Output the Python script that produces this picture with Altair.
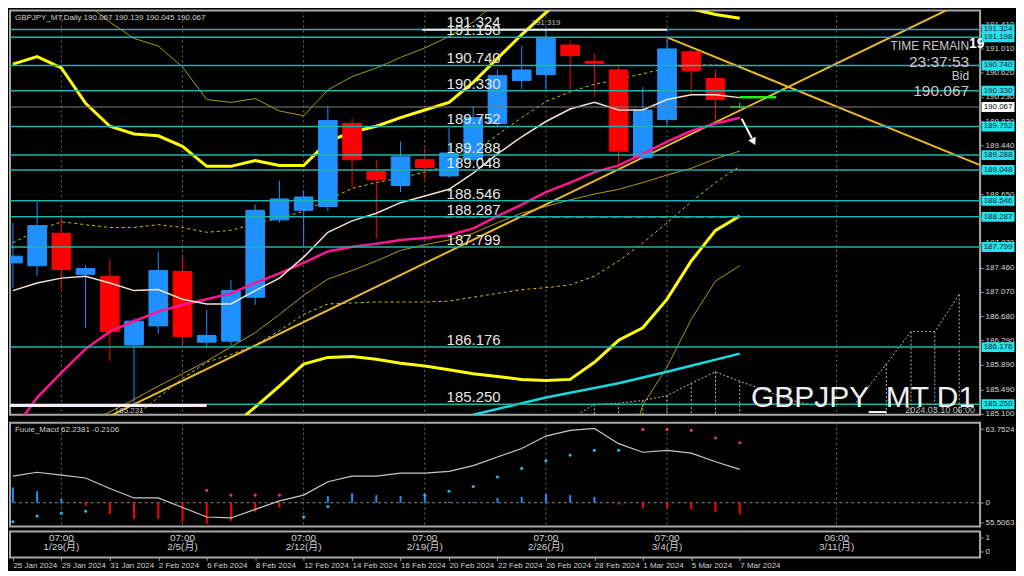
import altair as alt
import pandas as pd

FONT = "Liberation Sans, Arial, 'Noto Sans CJK JP', sans-serif"

# ---------------- data ----------------
days = ["25 Jan", "26 Jan", "29 Jan", "30 Jan", "31 Jan", "1 Feb", "2 Feb", "5 Feb", "6 Feb", "7 Feb",
        "8 Feb", "9 Feb", "12 Feb", "13 Feb", "14 Feb", "15 Feb", "16 Feb", "19 Feb", "20 Feb", "21 Feb",
        "22 Feb", "23 Feb", "26 Feb", "27 Feb", "28 Feb", "29 Feb", "1 Mar", "4 Mar", "5 Mar", "6 Mar", "7 Mar"]
opens = [187.541, 187.495, 188.021, 187.356, 187.325, 186.210, 186.520, 187.402, 186.256, 186.272,
         186.984, 188.238, 188.393, 188.455, 189.801, 189.027, 188.795, 189.213, 188.950, 189.213,
         189.801, 190.498, 190.591, 191.071, 190.808, 190.668, 189.244, 189.863, 190.962, 190.529, 190.067]
highs = [188.191, 188.532, 188.269, 187.510, 187.603, 186.643, 187.727, 187.619, 186.783, 187.263,
         188.486, 188.873, 188.718, 190.080, 189.879, 189.213, 189.507, 189.399, 189.724, 190.080,
         190.668, 191.055, 191.319, 191.148, 190.931, 190.715, 190.390, 191.195, 191.009, 190.668, 190.139]
lows = [187.139, 187.325, 187.092, 186.489, 185.947, 185.231, 186.396, 186.179, 186.164, 186.164,
        186.860, 188.191, 187.804, 188.377, 188.764, 187.944, 188.687, 188.888, 188.919, 189.182,
        189.739, 190.359, 190.343, 190.343, 190.235, 189.105, 189.213, 189.770, 190.281, 189.848, 190.045]
closes = [187.650, 188.145, 187.433, 187.448, 186.427, 186.597, 187.417, 186.349, 186.365, 187.092,
          188.393, 188.578, 188.609, 189.848, 189.213, 188.888, 189.260, 189.089, 189.321, 189.894,
          190.575, 190.668, 191.179, 190.900, 190.777, 189.352, 190.018, 191.009, 190.653, 190.188, 190.067]
idx = list(range(len(days)))

ma_white = [187.092, 187.216, 187.294, 187.325, 187.216, 187.092, 187.108, 186.953, 186.876, 186.876,
            187.092, 187.294, 187.634, 188.037, 188.222, 188.346, 188.517, 188.625, 188.733, 188.996,
            189.306, 189.585, 189.832, 190.034, 190.142, 190.018, 190.018, 190.188, 190.266, 190.266, 190.219]
ma_pink = [184.817, 185.359, 185.761, 186.148, 186.427, 186.597, 186.752, 186.860, 186.953, 187.046,
           187.216, 187.371, 187.541, 187.727, 187.804, 187.851, 187.913, 187.944, 187.990, 188.099,
           188.300, 188.486, 188.687, 188.842, 189.012, 189.120, 189.306, 189.507, 189.678, 189.801, 189.894]
bb_up2 = [190.761, 190.885, 190.699, 190.126, 189.755, 189.631, 189.600, 189.430, 189.105, 189.105,
          189.198, 189.120, 189.120, 189.507, 189.662, 189.755, 189.894, 190.018, 190.142, 190.467,
          190.854, 191.241, 191.597, 191.938, 192.170, 192.247, 192.092, 191.907, 191.659, 191.566, 191.504]
bb_up3 = [192.170, 192.278, 192.092, 191.752, 191.442, 191.179, 191.055, 190.715, 190.188, 190.142,
          190.204, 190.003, 189.925, 190.343, 190.560, 190.699, 190.870, 191.024, 191.210, 191.442,
          191.783, 192.092, 192.402, 192.634, 192.789, 192.866, 192.789, 192.634, 192.479, 192.325, 192.247]
bb_lo2 = [184.352, 184.229, 184.120, 184.043, 184.012, 184.043, 184.167, 184.352, 184.585, 184.879,
          185.204, 185.544, 185.900, 186.009, 186.024, 185.978, 185.916, 185.869, 185.808, 185.746,
          185.699, 185.653, 185.637, 185.653, 185.931, 186.287, 186.489, 186.953, 187.572, 188.068, 188.300]
bb_up1 = [187.866, 188.068, 188.207, 188.160, 188.114, 188.114, 188.160, 188.114, 188.037, 188.068,
          188.176, 188.269, 188.377, 188.563, 188.749, 188.842, 188.919, 189.012, 189.120, 189.337,
          189.616, 189.894, 190.157, 190.312, 190.436, 190.513, 190.606, 190.699, 190.746, 190.746, 190.746]
bb_lo1 = [184.662, 184.585, 184.538, 184.585, 184.739, 185.049, 185.359, 185.668, 185.931, 186.055,
          186.210, 186.442, 186.705, 186.876, 186.891, 186.907, 186.907, 186.907, 186.922, 186.984,
          187.046, 187.108, 187.139, 187.185, 187.325, 187.572, 187.866, 188.191, 188.532, 188.842, 189.105]
ma_long = [184.352, 184.538, 184.739, 184.941, 185.126, 185.328, 185.544, 185.746, 185.947, 186.179,
           186.411, 186.705, 187.015, 187.278, 187.417, 187.572, 187.743, 187.835, 187.913, 188.021,
           188.191, 188.346, 188.455, 188.563, 188.656, 188.733, 188.842, 188.965, 189.074, 189.229, 189.352]
bb_lo3_i = [22, 23, 24, 25, 26, 27, 28, 29, 30]
bb_lo3 = [182.959, 183.037, 183.270, 184.043, 185.235, 185.854, 186.628, 187.247, 187.495]

ma200_i = [19.0, 22, 25, 27, 30]
ma200 = [185.080, 185.359, 185.591, 185.777, 186.071]

trend_up_i = [4.1, 39.9]
trend_up_p = [185.079, 191.895]
trend_dn_i = [27.0, 39.9]
trend_dn_p = [191.195, 189.130]

projA_i = [23.3, 24, 25, 26, 27, 28, 29, 30, 31, 32, 33]
projA_p = [185.080, 185.250, 185.266, 185.312, 185.390, 185.591, 185.777, 185.622, 185.482, 185.328, 185.235]
projB_i = [34.8, 36.05, 37.07, 38.05, 39.06]
projB_p = [185.281, 185.900, 186.427, 186.427, 187.030]

levels = [191.324, 191.198, 190.740, 190.330, 189.752, 189.288, 189.048, 188.546, 188.287, 187.799, 186.176, 185.250]
bid = 190.067
price_ticks = [185.100, 185.490, 185.890, 186.290, 186.680, 187.070, 187.460, 187.870, 188.260,
               188.650, 189.050, 189.440, 189.830, 190.230, 190.620, 191.010, 191.410]

seg_i0 = [16.9, -0.2]
seg_i1 = [27.0, 8.0]
seg_p = [191.319, 185.231]

sep_i = [2, 7, 12, 17, 22, 27, 34]
sep_time = ["07:00", "07:00", "07:00", "07:00", "07:00", "07:00", "06:00"]
sep_date = ["1/29(月)", "2/5(月)", "2/12(月)", "2/19(月)", "2/26(月)", "3/4(月)", "3/11(月)"]

macd_hist = [16, 12, 4, -3, -12, -17, -17, -20, -22, -19, -10, -5, 0, 7, 10, 8, 7, 8, 1, 1,
             5, 6, 9, 8, 6, -2, -6, -6, -7, -10, -12]
macd_sig = [28, 32, 29, 26, 15, 5, 5, -5, -15, -16, -7, 2, 8, 22, 28, 28, 31, 31, 33, 39,
            48, 57, 70, 76, 78, 62, 53, 55, 52, 43, 35]
dot_i = [0, 1, 2, 3, 8, 9, 10, 11, 12, 13, 17, 18, 19, 20, 21, 22, 23, 24, 25, 26, 27, 28, 29, 30]
dot_v = [-20, -14, -11, -9, 13, 8, 8, 8, -15, -4, 8, 12, 17, 27, 36, 44, 50, 55, 55, 77, 77, 76, 68, 63]
dot_k = ["up"] * 4 + ["dn"] * 4 + ["up"] * 2 + ["up"] * 9 + ["dn"] * 5

# ---------------- layout ----------------
W, H1, H2, H3 = 972, 405, 104, 26
BLUE, RED = "#1E90FF", "#FF0000"

xs = alt.Scale(domain=[-0.12, 39.92], nice=False, zero=False)
ys = alt.Scale(domain=[185.08, 191.63], nice=False, zero=False)
ms = alt.Scale(domain=[-25, 84], nice=False, zero=False)
ts = alt.Scale(domain=[-0.375, 1.375], nice=False, zero=False)

yax = alt.Axis(orient="right", values=price_ticks, format=".3f", labelFontSize=8, labelColor="#D8D8D8",
               labelFont=FONT, tickColor="#A0A0A0", tickSize=3, labelPadding=2, domain=False,
               grid=False, title=None, zindex=0)


def X(f):
    return alt.X(f, scale=xs, axis=None, title=None)


def Y(f):
    return alt.Y(f, scale=ys, axis=yax, title=None)


def line(i_list, p_list, color, width, dash=None):
    d = pd.DataFrame({"i": i_list, "p": p_list})
    kw = dict(color=color, strokeWidth=width, clip=True)
    if dash:
        kw["strokeDash"] = dash
    return alt.Chart(d).mark_line(**kw).encode(x=X("i:Q"), y=Y("p:Q"))


def txt(s, x, y, size, color="#C8C8C8", align="left", weight="normal", baseline="middle"):
    return alt.Chart(pd.DataFrame({"t": [s]})).mark_text(
        align=align, baseline=baseline, fontSize=size, color=color, font=FONT, fontWeight=weight
    ).encode(text="t:N", x=alt.value(x), y=alt.value(y))


sepdf = pd.DataFrame({"i": sep_i, "tm": sep_time, "dt": sep_date})
sep_main = alt.Chart(sepdf).mark_rule(color="#6E6E6E", strokeDash=[2, 3], strokeWidth=1).encode(x=X("i:Q"))

# projection (dotted) lines and drops
pa = pd.DataFrame({"i": projA_i, "p": projA_p})
pb = pd.DataFrame({"i": projB_i, "p": projB_p})
projA = alt.Chart(pa).mark_line(color="#B8B8B8", strokeDash=[2, 2], strokeWidth=1, clip=True).encode(x=X("i:Q"), y=Y("p:Q"))
projB = alt.Chart(pb).mark_line(color="#B8B8B8", strokeDash=[2, 2], strokeWidth=1, clip=True).encode(x=X("i:Q"), y=Y("p:Q"))
dropsA = alt.Chart(pa).transform_filter("datum.i >= 24 && datum.i <= 30").mark_rule(
    color="#B8B8B8", strokeDash=[2, 2], strokeWidth=1).encode(x=X("i:Q"), y=Y("p:Q"), y2=alt.value(H1))
dropsB = alt.Chart(pb).transform_filter("datum.i > 35").mark_rule(
    color="#B8B8B8", strokeDash=[2, 2], strokeWidth=1).encode(x=X("i:Q"), y=Y("p:Q"), y2=alt.value(H1))

ind_lines = [
    line(idx, ma_long, "#B09A10", 1),
    line(idx, bb_up3, "#A0A000", 1),
    line(bb_lo3_i, bb_lo3, "#A0A000", 1),
    line(idx, bb_up1, "#C8C800", 1, [3, 3]),
    line(idx, bb_lo1, "#C8C800", 1, [3, 3]),
    line(idx, bb_up2, "#FFFF00", 3),
    line(idx, bb_lo2, "#FFFF00", 3),
    line(ma200_i, ma200, "#18D8E0", 2.5),
    line(trend_up_i, trend_up_p, "#E8B828", 2),
    line(trend_dn_i, trend_dn_p, "#E8B828", 2),
]

# candles
cdf = pd.DataFrame({"i": idx, "o": opens, "h": highs, "l": lows, "c": closes})
cbase = alt.Chart(cdf).transform_calculate(
    dir="datum.c > datum.o ? 'up' : (datum.c < datum.o ? 'down' : 'flat')",
    i0="datum.i - 0.385", i1="datum.i + 0.385")
cscale = alt.Scale(domain=["up", "down", "flat"], range=[BLUE, RED, "#22EE22"])
wicks = cbase.mark_rule(strokeWidth=1, clip=True).encode(
    x=X("i:Q"), y=Y("l:Q"), y2="h:Q", color=alt.Color("dir:N", scale=cscale, legend=None))
bodies = cbase.mark_rect(strokeWidth=1, clip=True).encode(
    x=X("i0:Q"), x2="i1:Q", y=Y("o:Q"), y2="c:Q",
    color=alt.Color("dir:N", scale=cscale, legend=None),
    stroke=alt.Stroke("dir:N", scale=cscale, legend=None))

ma_lines = [line(idx, ma_pink, "#FF1493", 2.5), line(idx, ma_white, "#F2E2D2", 1.5)]

levdf = pd.DataFrame({"p": levels, "t": [f"{v:.3f}" for v in levels]})
lev_rules = alt.Chart(levdf).mark_rule(color="#20B2AA", strokeWidth=1.5).encode(y=Y("p:Q"))
bid_rule = alt.Chart(pd.DataFrame({"p": [bid]})).mark_rule(color="#7F7F7F", strokeWidth=1).encode(y=Y("p:Q"))
segdf = pd.DataFrame({"i0": seg_i0, "i1": seg_i1, "p": seg_p, "w": ["a", "b"]})
seg_rules = alt.Chart(segdf).mark_rule(clip=True).encode(
    x=X("i0:Q"), x2="i1:Q", y=Y("p:Q"),
    strokeWidth=alt.StrokeWidth("w:N", scale=alt.Scale(domain=["a", "b"], range=[2, 3]), legend=None),
    color=alt.value("#F0F0F0"))
green_dash = alt.Chart(pd.DataFrame({"i0": [17.8], "i1": [30.0], "p": [188.287]})).mark_rule(
    color="#7FD47F", strokeDash=[8, 4], strokeWidth=1.5).encode(x=X("i0:Q"), x2="i1:Q", y=Y("p:Q"))
green_short = alt.Chart(pd.DataFrame({"i0": [30.0], "i1": [31.5], "p": [190.224]})).mark_rule(
    color="#22EE22", strokeWidth=2.5).encode(x=X("i0:Q"), x2="i1:Q", y=Y("p:Q"))

arrow_shaft = line([30.08, 30.5], [189.879, 189.56], "#FFFFFF", 2)
arrow_head = alt.Chart(pd.DataFrame({"i": [30.55], "p": [189.52]})).mark_point(
    shape="triangle", angle=153, size=70, filled=True, color="#FFFFFF", opacity=1).encode(x=X("i:Q"), y=Y("p:Q"))

lev_text = alt.Chart(levdf).mark_text(align="left", baseline="alphabetic", dy=-2, fontSize=15,
                                      color="#E6E6E6", font=FONT).encode(
    x=alt.XDatum(17.9, scale=xs, axis=None, type="quantitative"), y=Y("p:Q"), text="t:N")
hi_text = alt.Chart(pd.DataFrame({"i": [22], "p": [191.319], "t": ["191.319"]})).mark_text(
    fontSize=8, color="#C0C0C0", font=FONT, dy=-7).encode(x=X("i:Q"), y=Y("p:Q"), text="t:N")
lo_text = alt.Chart(pd.DataFrame({"i": [4.8], "p": [185.231], "t": ["185.231"]})).mark_text(
    fontSize=8, color="#C0C0C0", font=FONT, dy=6).encode(x=X("i:Q"), y=Y("p:Q"), text="t:N")

texts = [
    txt("GBPJPY_MT,Daily  190.067 190.139 190.045 190.067", 5, 7, 8, "#D0D0D0"),
    txt("TIME REMAIN", 961, 35.5, 12, "#C8C8C8", align="right"),
    txt("23:37:53", 961, 51.5, 15.5, "#C8C8C8", align="right"),
    txt("Bid", 961, 66, 12, "#C8C8C8", align="right"),
    txt("190.067", 961, 81, 15.5, "#C8C8C8", align="right"),
    txt("19", 961, 33.5, 14, "#FFFFFF", weight="bold"),
    txt("GBPJPY_MT D1", 967, 388, 30, "#F0F0F0", align="right"),
    txt("2024.03.10 06:00", 967, 400, 9, "#C0C0C0", align="right"),
]

BOX = "M-1,-0.3L1,-0.3L1,0.3L-1,0.3Z"
boxes = alt.Chart(levdf).mark_point(shape=BOX, size=1089, filled=True, opacity=1, color="#22E2EE",
                                    strokeWidth=0).encode(x=alt.value(W + 18), y=Y("p:Q"))
box_txt = alt.Chart(levdf).mark_text(fontSize=8, color="#0A2A2A", font=FONT).encode(
    x=alt.value(W + 18), y=Y("p:Q"), text="t:N")
biddf = pd.DataFrame({"p": [bid], "t": [f"{bid:.3f}"]})
bid_box = alt.Chart(biddf).mark_point(shape=BOX, size=1089, filled=True, opacity=1, color="#FFFFFF",
                                      strokeWidth=0).encode(x=alt.value(W + 18), y=Y("p:Q"))
bid_txt = alt.Chart(biddf).mark_text(fontSize=8, color="#000000", font=FONT).encode(
    x=alt.value(W + 18), y=Y("p:Q"), text="t:N")

main = alt.layer(
    sep_main, projA, projB, dropsA, dropsB, *ind_lines, green_dash, wicks, bodies, *ma_lines,
    lev_rules, bid_rule, seg_rules, green_short, arrow_shaft, arrow_head,
    lev_text, hi_text, lo_text, *texts, boxes, box_txt, bid_box, bid_txt
).properties(width=W, height=H1)

# ---------------- MACD panel ----------------
yax_m = alt.Axis(orient="right", values=[77.3, 0, -20.7],
                 labelExpr="datum.value > 50 ? '63.7524' : (datum.value < -10 ? '55.5063' : '0')",
                 labelFontSize=8, labelColor="#D8D8D8", labelFont=FONT, tickColor="#A0A0A0",
                 tickSize=3, labelPadding=2, domain=False, grid=False, title=None)


def YM(f):
    return alt.Y(f, scale=ms, axis=yax_m, title=None)


mdf = pd.DataFrame({"i": idx, "h": macd_hist, "s": macd_sig})
ddf = pd.DataFrame({"i": dot_i, "v": dot_v, "k": dot_k})
m_sep = alt.Chart(sepdf).mark_rule(color="#6E6E6E", strokeDash=[2, 3], strokeWidth=1).encode(x=X("i:Q"))
m_zero = alt.Chart(pd.DataFrame({"v": [0]})).mark_rule(color="#8A8A8A", strokeDash=[3, 3],
                                                       strokeWidth=1).encode(y=YM("v:Q"))
m_pos = alt.Chart(mdf).transform_filter("datum.h > 0").mark_rule(color=BLUE, strokeWidth=2).encode(
    x=X("i:Q"), y=YM("h:Q"), y2=alt.Y2Datum(0))
m_neg = alt.Chart(mdf).transform_filter("datum.h < 0").mark_rule(color=RED, strokeWidth=2).encode(
    x=X("i:Q"), y=YM("h:Q"), y2=alt.Y2Datum(0))
m_line = alt.Chart(mdf).mark_line(color="#C8C8C8", strokeWidth=1.2).encode(x=X("i:Q"), y=YM("s:Q"))
m_dup = alt.Chart(ddf).transform_filter("datum.k == 'up'").mark_point(
    filled=True, size=10, color="#20B8E8", opacity=1).encode(x=X("i:Q"), y=YM("v:Q"))
m_ddn = alt.Chart(ddf).transform_filter("datum.k == 'dn'").mark_point(
    filled=True, size=10, color="#E8307A", opacity=1).encode(x=X("i:Q"), y=YM("v:Q"))
m_title = txt("Fuuie_Macd 62.2381   -0.2106", 5, 7, 8, "#D0D0D0")
macd = alt.layer(m_sep, m_zero, m_pos, m_neg, m_line, m_dup, m_ddn, m_title).properties(width=W, height=H2)

# ---------------- time panel ----------------
date_labels = [days[i] + " 2024" for i in range(0, len(days), 2)]
lab_expr = "[" + ",".join(f"'{d}'" for d in date_labels) + "][round(datum.value/2)]"
xax = alt.Axis(values=list(range(0, len(days), 2)), labelExpr=lab_expr, labelAlign="left", labelFontSize=8,
               labelColor="#D0D0D0", labelFont=FONT, tickColor="#A0A0A0", tickSize=3, domain=False,
               grid=False, labelPadding=1, labelOverlap=False, labelFlush=False, title=None, orient="bottom")
yax_t = alt.Axis(orient="right", values=[0, 1], format="d", labelFontSize=8, labelColor="#D8D8D8",
                 labelFont=FONT, tickColor="#A0A0A0", tickSize=3, labelPadding=2, domain=False,
                 grid=False, title=None)
t_axis = alt.Chart(pd.DataFrame({"i": [0, 30], "v": [0, 1]})).mark_point(opacity=0).encode(
    x=alt.X("i:Q", scale=xs, axis=xax, title=None), y=alt.Y("v:Q", scale=ts, axis=yax_t, title=None))
t_time = alt.Chart(sepdf).mark_text(fontSize=10, color="#D0D0D0", font=FONT).encode(
    x=alt.X("i:Q", scale=xs, axis=xax, title=None), y=alt.value(6.5), text="tm:N")
t_date = alt.Chart(sepdf).mark_text(fontSize=10, color="#D0D0D0", font=FONT).encode(
    x=alt.X("i:Q", scale=xs, axis=xax, title=None), y=alt.value(16), text="dt:N")
timep = alt.layer(t_axis, t_time, t_date).properties(width=W, height=H3)

chart = alt.vconcat(main, macd, timep, spacing=2).properties(
    background="#000000", padding={"left": 0, "top": 0, "right": 0, "bottom": 0}
).configure_view(stroke="#A8A8A8", strokeWidth=2)

chart.save("out.html", embed_options={"renderer": "svg", "actions": False})
